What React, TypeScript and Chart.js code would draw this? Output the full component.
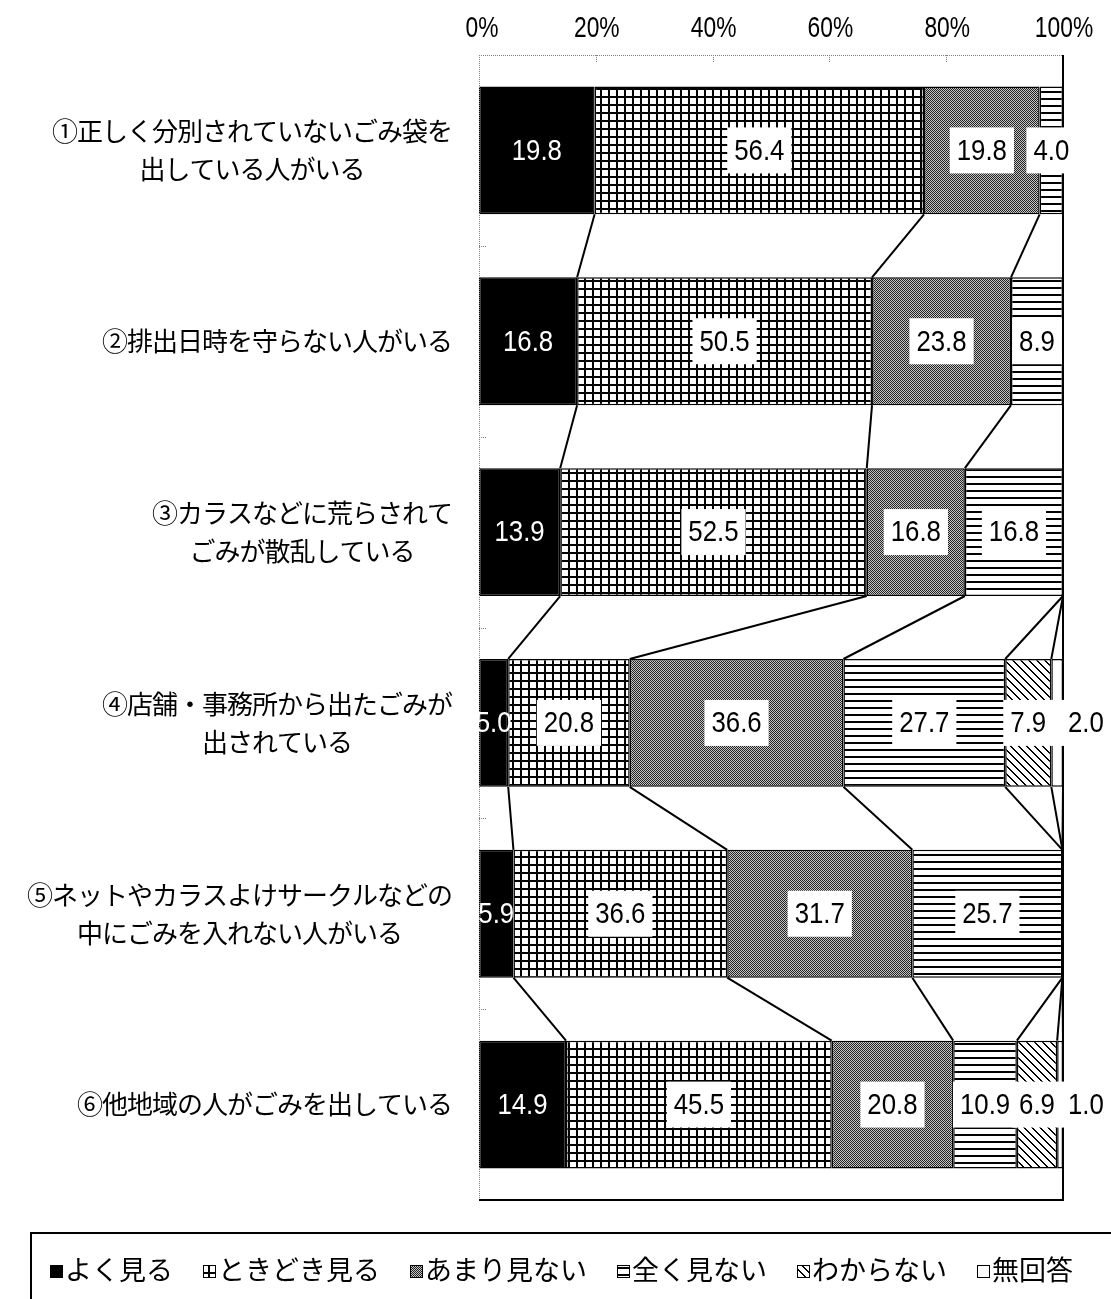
import React, { useEffect, useRef } from "react";
import { Chart, registerables } from "chart.js";

Chart.register(...registerables);

const categories: string[][] = [
  ["①正しく分別されていないごみ袋を", "出している人がいる"],
  ["②排出日時を守らない人がいる"],
  ["③カラスなどに荒らされて", "ごみが散乱している"],
  ["④店舗・事務所から出たごみが", "出されている"],
  ["⑤ネットやカラスよけサークルなどの", "中にごみを入れない人がいる"],
  ["⑥他地域の人がごみを出している"],
];

const seriesNames = ["よく見る", "ときどき見る", "あまり見ない", "全く見ない", "わからない", "無回答"];

const yokuMiru = [19.8, 16.8, 13.9, 5.0, 5.9, 14.9];
const tokidokiMiru = [56.4, 50.5, 52.5, 20.8, 36.6, 45.5];
const amariMinai = [19.8, 23.8, 16.8, 36.6, 31.7, 20.8];
const mattakuMinai = [4.0, 8.9, 16.8, 27.7, 25.7, 10.9];
const wakaranai = [null, null, null, 7.9, null, 6.9];
const mukaitou = [null, null, null, 2.0, null, 1.0];

const seriesValues: (number | null)[][] = [yokuMiru, tokidokiMiru, amariMinai, mattakuMinai, wakaranai, mukaitou];

const xTickValues = [0, 20, 40, 60, 80, 100];
const xTickLabels = ["0%", "20%", "40%", "60%", "80%", "100%"];

const NUM_FONT = '"Liberation Sans", Arial, sans-serif';
const JP_FONT = '"Noto Sans CJK JP", sans-serif';

function makePattern(kind: string): CanvasPattern | string {
  const c = document.createElement("canvas");
  let w = 8, h = 8;
  if (kind === "solid") return "#000000";
  if (kind === "white") return "#ffffff";
  if (kind === "dither") { w = 2; h = 2; }
  if (kind === "hlines") { w = 4; h = 7; }
  c.width = w; c.height = h;
  const g = c.getContext("2d")!;
  g.fillStyle = "#fff";
  g.fillRect(0, 0, w, h);
  g.fillStyle = "#000";
  if (kind === "grid") {
    g.fillRect(0, 0, w, 2);
    g.fillRect(0, 0, 2, h);
  } else if (kind === "dither") {
    g.fillStyle = "#222";
    g.fillRect(0, 0, 1, 1);
    g.fillRect(1, 1, 1, 1);
    g.fillStyle = "#c4c4c4";
    g.fillRect(1, 0, 1, 1);
    g.fillRect(0, 1, 1, 1);
  } else if (kind === "hlines") {
    g.fillRect(0, 0, w, 2);
  } else if (kind === "diag") {
    for (let i = 0; i < 8; i++) {
      g.fillRect(i, i, 1, 1);
      g.fillRect((i + 1) % 8, i, 1, 1);
    }
  }
  return g.createPattern(c, "repeat")!;
}

const patternKinds = ["solid", "grid", "dither", "hlines", "diag", "white"];

function condensedText(ctx: CanvasRenderingContext2D, txt: string, x: number, y: number, sx: number) {
  ctx.save();
  ctx.translate(x, y);
  ctx.scale(sx, 1);
  ctx.fillText(txt, 0, 0);
  ctx.restore();
}

export default function App() {
  const ref = useRef<HTMLCanvasElement | null>(null);

  useEffect(() => {
    document.body.style.margin = "0";
    const canvas = ref.current!;
    const fills = patternKinds.map(makePattern);

    const overlay = {
      id: "overlay",
      afterDatasetsDraw(chart: any) {
        const ctx: CanvasRenderingContext2D = chart.ctx;
        const { left, right, top, bottom } = chart.chartArea;
        const xs = chart.scales.x;
        const n = categories.length;
        const meta0 = chart.getDatasetMeta(0);
        const barTop = (i: number) => meta0.data[i].y - meta0.data[i].height / 2;
        const barBottom = (i: number) => meta0.data[i].y + meta0.data[i].height / 2;

        ctx.save();
        // connectors
        ctx.strokeStyle = "#000";
        ctx.lineWidth = 2;
        for (let i = 0; i < n - 1; i++) {
          let cumA = 0, cumB = 0;
          for (let k = 0; k < seriesValues.length; k++) {
            cumA += seriesValues[k][i] ?? 0;
            cumB += seriesValues[k][i + 1] ?? 0;
            ctx.beginPath();
            ctx.moveTo(xs.getPixelForValue(cumA), barBottom(i));
            ctx.lineTo(xs.getPixelForValue(cumB), barTop(i + 1));
            ctx.stroke();
          }
        }

        // plot borders
        ctx.setLineDash([1, 1]);
        ctx.strokeStyle = "#808080";
        ctx.lineWidth = 1;
        ctx.beginPath();
        ctx.moveTo(left + 0.5, bottom);
        ctx.lineTo(left + 0.5, top + 0.5);
        ctx.lineTo(right, top + 0.5);
        ctx.stroke();
        for (const v of xTickValues) {
          const px = Math.round(xs.getPixelForValue(v)) + 0.5;
          ctx.beginPath();
          ctx.moveTo(px, top);
          ctx.lineTo(px, top + 7);
          ctx.stroke();
        }
        for (let i = 0; i < n - 1; i++) {
          const py = Math.round((meta0.data[i].y + meta0.data[i + 1].y) / 2) + 0.5;
          ctx.beginPath();
          ctx.moveTo(left, py);
          ctx.lineTo(left + 7, py);
          ctx.stroke();
        }
        ctx.setLineDash([]);
        ctx.strokeStyle = "#000";
        ctx.lineWidth = 2;
        ctx.beginPath();
        ctx.moveTo(left, bottom);
        ctx.lineTo(right, bottom);
        ctx.lineTo(right, top);
        ctx.stroke();

        // x tick labels (top axis)
        ctx.font = `30px ${NUM_FONT}`;
        ctx.textBaseline = "middle";
        ctx.textAlign = "center";
        ctx.fillStyle = "#000";
        xTickValues.forEach((v, j) => {
          condensedText(ctx, xTickLabels[j], xs.getPixelForValue(v) + (j === 0 ? 3 : 1), 29, 0.76);
        });

        // data labels
        const SX = 0.86;
        const padX = 7, boxH = 46;
        for (let k = 0; k < seriesValues.length; k++) {
          const meta = chart.getDatasetMeta(k);
          for (let i = 0; i < n; i++) {
            const v = seriesValues[k][i];
            if (v == null) continue;
            const el = meta.data[i];
            const txt = v.toFixed(1);
            const tw = ctx.measureText(txt).width * SX;
            let cx = (el.x + el.base) / 2;
            const cy = el.y;
            if (k === 0) {
              ctx.fillStyle = "#fff";
              condensedText(ctx, txt, cx, cy + 1, SX);
              continue;
            }
            if (k === seriesValues.length - 1) {
              cx = Math.max(el.x, el.base) - 2 + padX + tw / 2;
            }
            ctx.fillStyle = "#fff";
            ctx.fillRect(cx - tw / 2 - padX, cy - boxH / 2, tw + padX * 2, boxH);
            ctx.fillStyle = "#000";
            condensedText(ctx, txt, cx, cy + 1, SX);
          }
        }

        // category labels
        ctx.font = `26px ${JP_FONT}`;
        (ctx as any).letterSpacing = "-1px";
        ctx.fillStyle = "#000";
        ctx.textAlign = "center";
        const lineH = 38;
        const rightEdge = left - 27;
        for (let i = 0; i < n; i++) {
          const lines = categories[i];
          const maxW = Math.max(...lines.map((l) => ctx.measureText(l).width));
          const cx = rightEdge - maxW / 2;
          const cy = meta0.data[i].y;
          lines.forEach((l, j) => {
            ctx.fillText(l, cx, cy + (j - (lines.length - 1) / 2) * lineH);
          });
        }
        (ctx as any).letterSpacing = "0px";

        // legend
        const H = chart.height, W = chart.width;
        ctx.strokeStyle = "#000";
        ctx.lineWidth = 2;
        ctx.beginPath();
        ctx.moveTo(31, H + 2);
        ctx.lineTo(31, 1233);
        ctx.lineTo(W + 2, 1233);
        ctx.stroke();
        ctx.textAlign = "left";
        ctx.font = `27px ${JP_FONT}`;
        let lx = 50;
        const ly = 1270;
        seriesNames.forEach((name, k) => {
          ctx.fillStyle = fills[k] as any;
          ctx.fillRect(lx, ly - 5, 13, 13);
          ctx.strokeStyle = "#000";
          ctx.lineWidth = 1;
          ctx.strokeRect(lx + 0.5, ly - 4.5, 12, 12);
          ctx.fillStyle = "#000";
          ctx.fillText(name, lx + 15, ly);
          lx += 15 + ctx.measureText(name).width + 30;
        });
        ctx.restore();
      },
    };

    const chart = new Chart(canvas, {
      type: "bar",
      data: {
        labels: categories.map((c) => c.join("")),
        datasets: seriesNames.map((name, k) => ({
          label: name,
          data: seriesValues[k] as any,
          backgroundColor: fills[k] as any,
          borderColor: "#000",
          borderWidth: 1.5,
          borderSkipped: false,
          barPercentage: 0.67,
          categoryPercentage: 1,
        })),
      },
      options: {
        indexAxis: "y",
        responsive: false,
        animation: false,
        devicePixelRatio: 1,
        layout: { padding: { left: 0, right: 48, top: 0, bottom: 99 } },
        plugins: { legend: { display: false }, tooltip: { enabled: false } },
        scales: {
          x: {
            type: "linear",
            position: "top",
            stacked: true,
            min: 0,
            max: 100,
            afterFit: (s: any) => { s.height = 55; },
            afterBuildTicks: (s: any) => { s.ticks = xTickValues.map((v) => ({ value: v })); },
            ticks: { display: false },
            grid: { display: false, drawTicks: false },
            border: { display: false },
          },
          y: {
            type: "category",
            stacked: true,
            afterFit: (s: any) => { s.width = 479; },
            ticks: { display: false },
            grid: { display: false, drawTicks: false },
            border: { display: false },
          },
        },
      },
      plugins: [overlay],
    } as any);

    return () => chart.destroy();
  }, []);

  return (
    <div style={{ width: 1111, height: 1299 }}>
      <canvas ref={ref} width={1111} height={1299} />
    </div>
  );
}
